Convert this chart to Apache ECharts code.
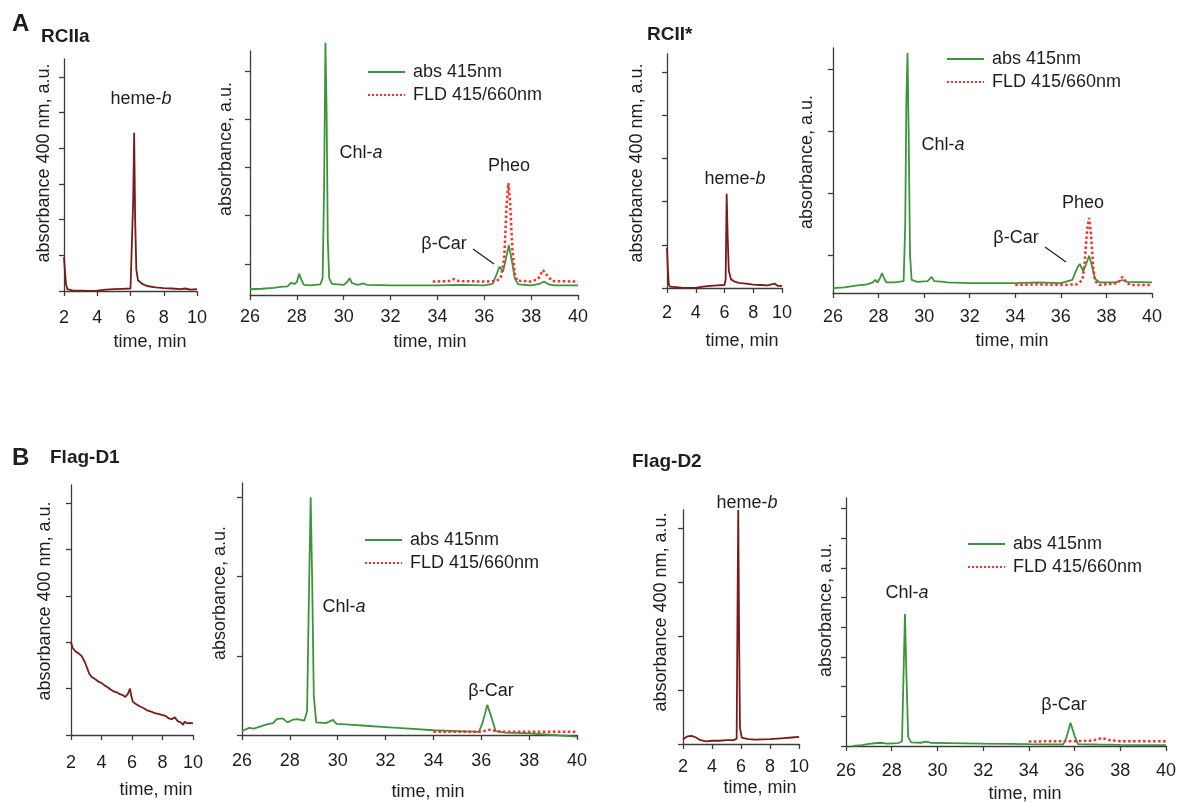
<!DOCTYPE html>
<html lang="en">
<head>
<meta charset="UTF-8" />
<title>HPLC pigment profiles</title>
<script src="https://cdn.jsdelivr.net/npm/echarts@6.0.0/dist/echarts.min.js"></script>
<style>html,body{margin:0;background:#fff}</style>
</head>
<body>
<div id="container" style="width:1180px;height:803px"></div>
<script>
// [time min, absorbance a.u.]
var rciiaHeme = [[2.0,0.95],[2.05,0.6],[2.12,0.2],[2.2,0.05],[2.5,0.02],[3,0.01],[3.5,0.0],[4,0.01],[4.5,0.04],[5,0.05],[5.5,0.06],[6.0,0.07],[6.1,0.1],[6.16,2.5],[6.22,4.43],[6.28,2.0],[6.35,0.6],[6.45,0.3],[6.7,0.2],[7,0.14],[7.5,0.1],[8,0.08],[8.5,0.07],[9,0.05],[9.3,0.07],[9.6,0.04],[10,0.05]]
var rciiaAbs = [[26,0.47],[26.5,0.48],[27,0.5],[27.3,0.52],[27.6,0.53],[27.75,0.6],[27.82,0.64],[27.9,0.58],[28.0,0.62],[28.1,0.79],[28.2,0.66],[28.3,0.56],[28.6,0.55],[29.0,0.57],[29.1,0.7],[29.16,2.5],[29.22,5.6],[29.27,4.2],[29.32,1.5],[29.38,0.7],[29.5,0.58],[30.0,0.56],[30.15,0.62],[30.25,0.7],[30.35,0.6],[30.6,0.56],[30.85,0.59],[31.0,0.56],[32,0.55],[33,0.55],[34,0.55],[35,0.56],[36,0.55],[36.35,0.58],[36.5,0.75],[36.65,0.94],[36.8,0.84],[36.9,1.05],[37.05,1.39],[37.2,1.0],[37.3,0.7],[37.45,0.57],[38,0.55],[38.35,0.58],[38.55,0.63],[38.75,0.57],[39,0.55],[40,0.55]]
var rciiaFld = [[33.8,0.63],[34.5,0.64],[34.7,0.68],[34.9,0.64],[36,0.63],[36.5,0.64],[36.7,0.7],[36.85,1.1],[36.95,2.2],[37.03,2.68],[37.1,2.3],[37.2,1.3],[37.3,0.8],[37.4,0.65],[38,0.63],[38.3,0.68],[38.5,0.87],[38.7,0.75],[38.9,0.64],[40,0.63]]

var rciiStarHeme = [[2.0,0.93],[2.05,0.5],[2.12,0.1],[2.2,0.03],[3,0.01],[4,0.0],[4.5,0.03],[5,0.05],[5.5,0.06],[6.0,0.07],[6.08,0.2],[6.15,2.18],[6.22,1.2],[6.3,0.4],[6.45,0.2],[6.7,0.15],[7,0.12],[7.5,0.1],[8,0.08],[8.5,0.07],[9,0.06],[9.5,0.1],[9.7,0.05],[10,0.05]]
var rciiStarAbs = [[26,0.47],[26.5,0.48],[27,0.51],[27.5,0.53],[27.75,0.56],[27.85,0.6],[27.95,0.56],[28.05,0.62],[28.15,0.71],[28.25,0.62],[28.35,0.56],[28.7,0.56],[29.1,0.58],[29.17,1.5],[29.22,3.5],[29.27,4.26],[29.32,3.0],[29.38,1.0],[29.45,0.6],[29.7,0.57],[30.15,0.58],[30.33,0.65],[30.45,0.58],[30.9,0.57],[31,0.56],[32,0.55],[33,0.55],[34,0.55],[35,0.56],[36,0.55],[36.5,0.6],[36.7,0.78],[36.83,0.86],[36.98,0.74],[37.1,0.85],[37.24,0.99],[37.35,0.85],[37.5,0.62],[37.7,0.56],[38.4,0.56],[38.7,0.6],[38.9,0.57],[40,0.56]]
var rciiStarFld = [[34,0.52],[35,0.53],[36,0.52],[36.7,0.53],[36.95,0.6],[37.05,0.9],[37.15,1.4],[37.24,1.6],[37.32,1.35],[37.42,0.8],[37.5,0.58],[37.7,0.52],[38.5,0.55],[38.7,0.65],[38.9,0.55],[39.1,0.52],[40,0.52]]

var flagD1Heme = [[2.0,2.0],[2.1,1.88],[2.3,1.8],[2.5,1.76],[2.7,1.7],[2.9,1.58],[3.05,1.45],[3.2,1.32],[3.35,1.25],[3.6,1.2],[3.8,1.15],[4.0,1.12],[4.2,1.07],[4.4,1.03],[4.6,0.98],[4.8,0.94],[5.0,0.92],[5.2,0.88],[5.4,0.86],[5.55,0.82],[5.65,0.8],[5.72,0.88],[5.78,0.84],[5.87,1.0],[5.95,0.85],[6.05,0.72],[6.2,0.68],[6.5,0.62],[6.8,0.57],[7.0,0.53],[7.3,0.5],[7.5,0.47],[7.8,0.45],[8.0,0.43],[8.2,0.41],[8.4,0.36],[8.6,0.34],[8.8,0.38],[9.0,0.3],[9.2,0.27],[9.35,0.22],[9.45,0.29],[9.6,0.25],[9.8,0.26],[10,0.25]]
var flagD1Abs = [[26,0.05],[26.3,0.09],[26.5,0.08],[27,0.13],[27.3,0.15],[27.45,0.2],[27.7,0.21],[27.9,0.16],[28.1,0.19],[28.3,0.2],[28.6,0.18],[28.72,0.3],[28.8,1.8],[28.87,3.0],[28.93,2.0],[29.0,0.5],[29.1,0.16],[29.5,0.15],[29.8,0.19],[29.95,0.14],[30.5,0.13],[31,0.12],[32,0.1],[33,0.08],[34,0.06],[35,0.05],[35.9,0.04],[36.05,0.15],[36.25,0.38],[36.45,0.2],[36.6,0.05],[37,0.03],[38,0.02],[39,0.0],[40,-0.02]]
var flagD1Fld = [[34,0.04],[35,0.04],[36,0.04],[36.4,0.07],[36.6,0.05],[37,0.04],[40,0.04]]

var flagD2Heme = [[2.0,0.09],[2.3,0.14],[2.6,0.15],[2.9,0.12],[3.2,0.07],[3.6,0.05],[4,0.06],[4.5,0.06],[5,0.07],[5.5,0.07],[5.7,0.1],[5.76,2.5],[5.81,4.33],[5.87,2.0],[5.93,0.3],[6.05,0.12],[6.5,0.09],[7,0.08],[8,0.09],[8.5,0.1],[9,0.11],[9.5,0.12],[10,0.13]]
var flagD2Abs = [[26.3,0],[26.7,0.03],[27,0.07],[27.5,0.11],[27.8,0.08],[28.3,0.1],[28.45,0.15],[28.52,2.5],[28.58,4.44],[28.64,2.5],[28.72,0.3],[28.85,0.12],[29.3,0.11],[29.5,0.15],[29.7,0.11],[30.5,0.1],[32,0.08],[33,0.07],[34,0.06],[35.5,0.05],[35.65,0.3],[35.82,0.78],[36.0,0.35],[36.15,0.06],[37,0.05],[38,0.04],[40,0.03]]
var flagD2Fld = [[34,0.15],[35,0.16],[36,0.16],[36.8,0.18],[37.2,0.27],[37.5,0.2],[38,0.16],[40,0.16]]

// y tick positions and ranges of each panel (no tick labels in the figure)
var yTicks = [[0,1,2,3,4,5,6],[1,2,3,4,5],[0,1,2,3,4,5],[1,2,3,4],[0,1,2,3,4,5],[0,1,2,3],[0,1,2,3,4],[0,1,2,3,4,5,6,7,8]]
var yMin = [0, 0.35, 0, 0.39, 0, 0, 0, 0]
var yMax = [6.5, 5.43, 5.42, 4.34, 5.39, 3.18, 4.33, 8.35]
var xRanges = [[2,10],[26,40],[2,10],[26,40],[2,10],[26,40],[2,10],[26,40]]

var F = '"Liberation Sans", Arial, Helvetica, sans-serif'
var INK = '#1e1e1e'
var AXIS = '#3c3c3c'
var GREEN = '#3a963a'
var HEME = '#7a1a1a'
var RED = '#ff2a2a'

var grids = [
  { left: 64, top: 59, width: 133, height: 232 },
  { left: 250, top: 51, width: 328, height: 244 },
  { left: 667, top: 54, width: 115, height: 234 },
  { left: 833, top: 48, width: 319, height: 245 },
  { left: 71, top: 485, width: 122, height: 250 },
  { left: 242, top: 483, width: 335, height: 252 },
  { left: 683, top: 510, width: 116, height: 234 },
  { left: 846, top: 498, width: 320, height: 248 }
]
var labelMargin = [18, 13, 16, 15, 19, 17, 14, 16]

var myChart = echarts.init(document.querySelector('#container'))

var xAxes = [], yAxes = []
grids.forEach(function (g, i) {
  xAxes.push({
    gridIndex: i, type: 'value', min: xRanges[i][0], max: xRanges[i][1], interval: 2,
    axisLine: { show: true, onZero: false, lineStyle: { color: AXIS, width: 1.3 } },
    axisTick: { show: true, length: 5, lineStyle: { color: AXIS, width: 1.3 } },
    axisLabel: { fontSize: 18, fontFamily: F, color: INK, margin: labelMargin[i] },
    splitLine: { show: false }
  })
  yAxes.push({
    gridIndex: i, type: 'value', min: yMin[i], max: yMax[i],
    axisLine: { show: true, onZero: false, lineStyle: { color: AXIS, width: 1.3 } },
    axisTick: { show: true, length: 5, customValues: yTicks[i], lineStyle: { color: AXIS, width: 1.3 } },
    axisLabel: { show: false },
    splitLine: { show: false }
  })
})

function trace(name, data, i, color, type, width) {
  return {
    name: name, type: 'line', data: data, xAxisIndex: i, yAxisIndex: i,
    showSymbol: false, symbol: 'none', clip: false, animation: false,
    lineStyle: { color: color, width: width, type: type }, itemStyle: { color: color }
  }
}

var series = [
  trace('heme RCIIa', rciiaHeme, 0, HEME, 'solid', 1.8),
  trace('abs 415nm', rciiaAbs, 1, GREEN, 'solid', 1.8),
  trace('FLD 415/660nm', rciiaFld, 1, RED, 'dotted', 2.5),
  trace('heme RCII*', rciiStarHeme, 2, HEME, 'solid', 1.8),
  trace('abs 415nm', rciiStarAbs, 3, GREEN, 'solid', 1.8),
  trace('FLD 415/660nm', rciiStarFld, 3, RED, 'dotted', 2.5),
  trace('heme Flag-D1', flagD1Heme, 4, HEME, 'solid', 1.8),
  trace('abs 415nm', flagD1Abs, 5, GREEN, 'solid', 1.8),
  trace('FLD 415/660nm', flagD1Fld, 5, RED, 'dotted', 2.5),
  trace('heme Flag-D2', flagD2Heme, 6, HEME, 'solid', 1.8),
  trace('abs 415nm', flagD2Abs, 7, GREEN, 'solid', 1.8),
  trace('FLD 415/660nm', flagD2Fld, 7, RED, 'dotted', 2.5)
]

function legendAt(left, top) {
  return {
    left: left, top: top, padding: 0, orient: 'vertical', itemWidth: 37, itemHeight: 12, itemGap: 5,
    selectedMode: false,
    itemStyle: { opacity: 0 },
    textStyle: { fontSize: 18, fontFamily: F, color: INK, padding: [0, 0, 0, 3] },
    data: ['abs 415nm', 'FLD 415/660nm']
  }
}

var italic = { i: { fontStyle: 'italic', fontSize: 18, fontFamily: F, fill: INK } }
function txt(x, y, text, extra) {
  var style = { text: text, fontSize: 18, fontFamily: F, fill: INK, align: 'center', verticalAlign: 'middle', rich: italic }
  if (extra) for (var k in extra) style[k] = extra[k]
  return { type: 'text', x: x, y: y, silent: true, style: style }
}
function vtxt(x, y, text) {
  var t = txt(x, y, text)
  t.rotation = Math.PI / 2
  return t
}
function bold(x, y, text, size) {
  return txt(x, y, text, { fontWeight: 'bold', fontSize: size, align: 'left' })
}
function leader(x1, y1, x2, y2) {
  return { type: 'line', silent: true, shape: { x1: x1, y1: y1, x2: x2, y2: y2 }, style: { stroke: '#222', lineWidth: 1.3 } }
}

var graphic = [
  bold(12, 24, 'A', 24), bold(41, 37, 'RCIIa', 19), bold(647, 35, 'RCII*', 19),
  bold(12, 458, 'B', 24), bold(50, 458, 'Flag-D1', 19), bold(632, 462, 'Flag-D2', 19),

  vtxt(44, 163, 'absorbance 400 nm, a.u.'), vtxt(226, 149, 'absorbance, a.u.'),
  vtxt(637, 163, 'absorbance 400 nm, a.u.'), vtxt(807, 162, 'absorbance, a.u.'),
  vtxt(45, 601, 'absorbance 400 nm, a.u.'), vtxt(220, 593, 'absorbance, a.u.'),
  vtxt(661, 612, 'absorbance 400 nm, a.u.'), vtxt(826, 610, 'absorbance, a.u.'),

  txt(150, 342, 'time, min'), txt(430, 342, 'time, min'),
  txt(742, 341, 'time, min'), txt(1012, 341, 'time, min'),
  txt(156, 790, 'time, min'), txt(428, 792, 'time, min'),
  txt(760, 788, 'time, min'), txt(1025, 794, 'time, min'),

  txt(141, 99, 'heme-{i|b}'), txt(735, 179, 'heme-{i|b}'), txt(747, 503, 'heme-{i|b}'),
  txt(361, 153, 'Chl-{i|a}'), txt(509, 166, 'Pheo'), txt(444, 244, 'β-Car'),
  leader(473, 249, 494, 264),
  txt(943, 145, 'Chl-{i|a}'), txt(1083, 203, 'Pheo'), txt(1016, 238, 'β-Car'),
  leader(1045, 247, 1066, 262),
  txt(344, 607, 'Chl-{i|a}'), txt(491, 691, 'β-Car'),
  txt(907, 593, 'Chl-{i|a}'), txt(1064, 705, 'β-Car')
]

myChart.setOption({
  backgroundColor: '#ffffff',
  animation: false,
  grid: grids,
  xAxis: xAxes,
  yAxis: yAxes,
  legend: [legendAt(367, 63), legendAt(946, 50), legendAt(364, 531), legendAt(967, 535)],
  series: series,
  graphic: graphic
})
</script>
</body>
</html>
